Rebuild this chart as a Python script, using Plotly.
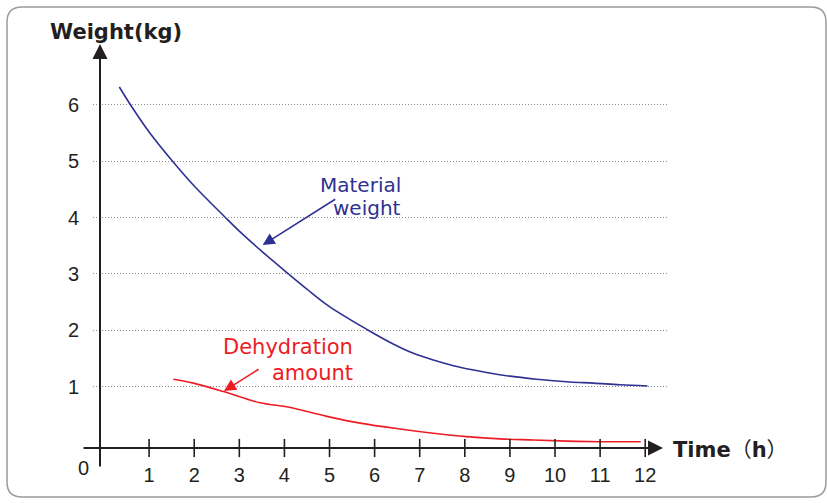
import plotly.graph_objects as go

# ---- data ----
time_ticks = [1, 2, 3, 4, 5, 6, 7, 8, 9, 10, 11, 12]
weight_ticks = [1, 2, 3, 4, 5, 6]

material_time = [0.34, 0.59, 1.0, 1.52, 2.0, 2.67, 3.0, 3.5, 4.09, 4.5, 5.0, 5.86, 6.4,
                 6.86, 7.3, 7.75, 8.34, 8.85, 9.59, 10.33, 10.85, 11.44, 12.05]
material_weight = [6.32, 6.0, 5.52, 5.0, 4.56, 4.02, 3.76, 3.40, 3.0, 2.73, 2.42, 2.0, 1.76,
                   1.59, 1.47, 1.37, 1.27, 1.20, 1.13, 1.08, 1.06, 1.03, 1.01]

dehyd_time = [1.54, 1.98, 2.65, 3.46, 4.05, 4.94, 5.68, 6.56, 7.30, 8.04, 8.78, 9.52,
              10.26, 11.0, 11.9]
dehyd_amount = [1.13, 1.06, 0.91, 0.71, 0.64, 0.47, 0.35, 0.245, 0.17, 0.11, 0.07, 0.05,
                0.03, 0.02, 0.02]

BLUE = "#2e3192"
RED = "#ed1c24"
INK = "#231f20"
FONT = "DejaVu Sans, Noto Sans CJK SC, sans-serif"
TICKFONT = "Liberation Sans, Arial, sans-serif"

W, H = 827, 503
L, R, T, B = 93, 667, 44, 448  # plot area in pixels
XR = [-0.244, 12.483]
YR = [-0.092, 7.083]


def px(xp):
    return (xp - L) / (R - L)


def py(yp):
    return (B - yp) / (B - T)


fig = go.Figure()

fig.add_trace(go.Scatter(x=material_time, y=material_weight, mode="lines",
                         line=dict(color=BLUE, width=1.6, shape="spline", smoothing=1.0),
                         cliponaxis=False, hoverinfo="skip", showlegend=False))
fig.add_trace(go.Scatter(x=dehyd_time, y=dehyd_amount, mode="lines",
                         line=dict(color=RED, width=1.6, shape="spline", smoothing=1.0),
                         cliponaxis=False, hoverinfo="skip", showlegend=False))
# x tick marks crossing the axis
fig.add_trace(go.Scatter(x=time_ticks, y=[YR[0]] * len(time_ticks), mode="markers",
                         marker=dict(symbol="line-ns", size=13,
                                     line=dict(color=INK, width=1.6)),
                         cliponaxis=False, hoverinfo="skip", showlegend=False))

ann = []
# axes with arrows
ann.append(dict(xref="paper", yref="paper", x=px(663), y=py(448), ax=-(663 - 82), ay=0,
                axref="pixel", ayref="pixel", text="", showarrow=True, arrowhead=2,
                arrowsize=1.5, arrowwidth=2, arrowcolor=INK, standoff=0))
ann.append(dict(xref="paper", yref="paper", x=px(100), y=py(44), ax=0, ay=468 - 44,
                axref="pixel", ayref="pixel", text="", showarrow=True, arrowhead=2,
                arrowsize=1.5, arrowwidth=2, arrowcolor=INK, standoff=0))
# axis titles
ann.append(dict(xref="paper", yref="paper", x=px(116), y=py(32), text="<b>Weight(kg)</b>",
                showarrow=False, xanchor="center", yanchor="middle",
                font=dict(family=FONT, size=21, color=INK)))
ann.append(dict(xref="paper", yref="paper", x=px(671), y=py(450), text="<b>Time</b>（<b>h</b>）",
                showarrow=False, xanchor="left", yanchor="middle",
                font=dict(family=FONT, size=21, color=INK)))
ann.append(dict(xref="paper", yref="paper", x=px(83), y=py(468), text="0",
                showarrow=False, xanchor="center", yanchor="middle",
                font=dict(family=TICKFONT, size=20, color=INK)))
# series labels
ann.append(dict(xref="paper", yref="paper", x=px(403), y=py(185), text="Material",
                showarrow=False, xanchor="right", yanchor="middle",
                font=dict(family=FONT, size=20, color=BLUE)))
ann.append(dict(xref="paper", yref="paper", x=px(403), y=py(208), text="weight",
                showarrow=False, xanchor="right", yanchor="middle",
                font=dict(family=FONT, size=20, color=BLUE)))
ann.append(dict(xref="paper", yref="paper", x=px(355), y=py(347), text="Dehydration",
                showarrow=False, xanchor="right", yanchor="middle",
                font=dict(family=FONT, size=21, color=RED)))
ann.append(dict(xref="paper", yref="paper", x=px(355), y=py(373), text="amount",
                showarrow=False, xanchor="right", yanchor="middle",
                font=dict(family=FONT, size=21, color=RED)))
# pointer arrows
ann.append(dict(xref="paper", yref="paper", x=px(262.7), y=py(245), ax=74, ay=-46.7,
                axref="pixel", ayref="pixel", text="", showarrow=True, arrowhead=2,
                arrowsize=1.6, arrowwidth=1.5, arrowcolor=BLUE, standoff=0))
ann.append(dict(xref="paper", yref="paper", x=px(224), y=py(391), ax=36, ay=-22.7,
                axref="pixel", ayref="pixel", text="", showarrow=True, arrowhead=2,
                arrowsize=1.6, arrowwidth=1.5, arrowcolor=RED, standoff=0))

# rounded outer frame
x0, x1, y0, y1 = px(7), px(826), py(497), py(7)
rx, ry = 15 / (R - L), 15 / (B - T)
path = (f"M {x0 + rx},{y1} L {x1 - rx},{y1} Q {x1},{y1} {x1},{y1 - ry} "
        f"L {x1},{y0 + ry} Q {x1},{y0} {x1 - rx},{y0} L {x0 + rx},{y0} "
        f"Q {x0},{y0} {x0},{y0 + ry} L {x0},{y1 - ry} Q {x0},{y1} {x0 + rx},{y1} Z")
shapes = [dict(type="path", xref="paper", yref="paper", path=path,
               line=dict(color="#9a9a9a", width=1.5), layer="below")]

fig.update_layout(
    width=W, height=H,
    margin=dict(l=L, r=W - R, t=T, b=H - B, pad=0),
    paper_bgcolor="white", plot_bgcolor="white",
    annotations=ann, shapes=shapes,
    xaxis=dict(range=XR, tickvals=time_ticks, ticktext=[str(v) for v in time_ticks],
               showgrid=False, zeroline=False, showline=False, ticks="",
               ticklabelstandoff=13, tickfont=dict(family=TICKFONT, size=20, color=INK),
               fixedrange=True),
    yaxis=dict(range=YR, tickvals=weight_ticks, ticktext=[str(v) for v in weight_ticks],
               showgrid=True, gridcolor="#8c8c8c", griddash="1px,2px", gridwidth=1,
               zeroline=False, showline=False, ticks="",
               ticklabelstandoff=13, tickfont=dict(family=TICKFONT, size=20, color=INK),
               fixedrange=True),
)

fig.write_html("out.html", config={"displayModeBar": False},
               post_script="document.body.style.margin='0px';")
